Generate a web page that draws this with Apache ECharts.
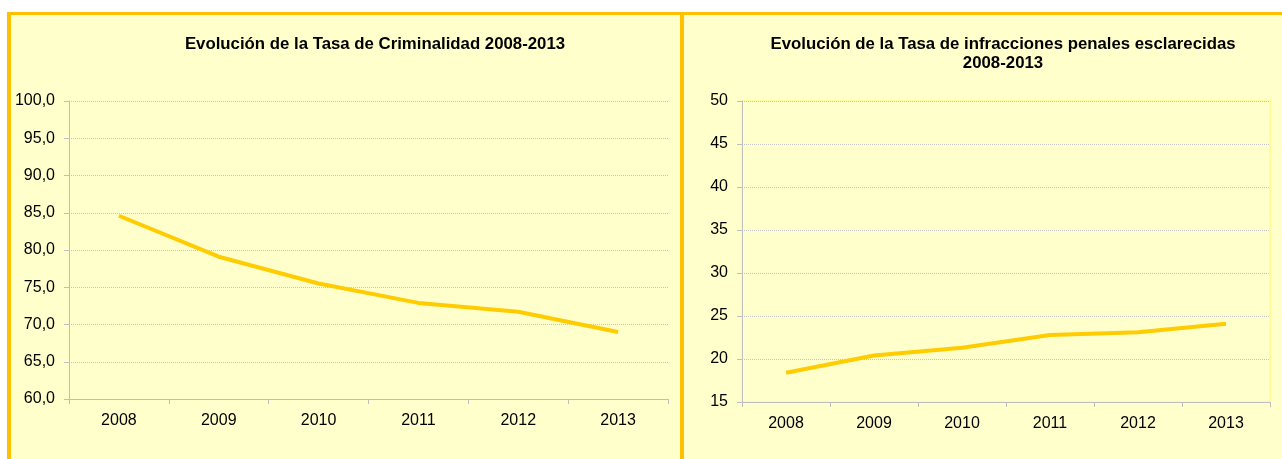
<!DOCTYPE html>
<html>
<head>
<meta charset="utf-8">
<script src="https://cdn.jsdelivr.net/npm/echarts@6/dist/echarts.min.js"></script>
<style>
  html, body { margin: 0; padding: 0; background: #ffffff; width: 1282px; height: 459px; overflow: hidden; }
  #frame { position: absolute; left: 7px; top: 12px; width: 1300px; height: 500px;
           background: #FFFFCC; border-left: 4px solid #FFC000; border-top: 3px solid #FFC000; }
  #divider { position: absolute; left: 680px; top: 12px; width: 4px; height: 460px; background: #FFC000; }
  #chart { position: absolute; left: 0; top: 0; width: 1282px; height: 459px; }
</style>
</head>
<body>
<div id="frame"></div>
<div id="divider"></div>
<div id="chart"></div>
<script>
const years = ['2008', '2009', '2010', '2011', '2012', '2013'];
const tasaCriminalidad = [84.6, 79.1, 75.5, 72.9, 71.7, 69.0];
const tasaEsclarecidas = [18.4, 20.4, 21.3, 22.8, 23.1, 24.1];
const titleLeft = 'Evolución de la Tasa de Criminalidad 2008-2013';
const titleRight = 'Evolución de la Tasa de infracciones penales esclarecidas\n2008-2013';

const chart = echarts.init(document.getElementById('chart'), null, { renderer: 'canvas' });
const font = 'Liberation Sans, Arial, sans-serif';
const axisGray = '#bfbfbf';

function xAxis(gridIndex) {
  return {
    type: 'category', gridIndex, data: years, boundaryGap: true,
    axisLine: { lineStyle: { color: axisGray, width: 1 } },
    axisTick: { show: true, length: 5, lineStyle: { color: axisGray } },
    axisLabel: { color: '#000', fontFamily: font, fontSize: 16, margin: 14 },
    splitLine: { show: false }
  };
}
function yAxis(gridIndex, min, max, fmt) {
  return {
    type: 'value', gridIndex, min, max, interval: 5,
    axisLine: { show: true, lineStyle: { color: axisGray, width: 1 } },
    axisTick: { show: true, length: 5, lineStyle: { color: axisGray } },
    axisLabel: { color: '#000', fontFamily: font, fontSize: 16, margin: 14, formatter: fmt },
    splitLine: { show: true, lineStyle: { color: '#c4c4c4', type: 'dotted', width: 1 } }
  };
}

chart.setOption({
  backgroundColor: 'transparent',
  animation: false,
  title: [
    { text: titleLeft, left: 370, top: 31, textAlign: 'center',
      textStyle: { fontFamily: font, fontSize: 16.8, fontWeight: 'bold', color: '#000' } },
    { text: titleRight, left: 998, top: 30, textAlign: 'center',
      textStyle: { fontFamily: font, fontSize: 16.8, fontWeight: 'bold', color: '#000', lineHeight: 19 } }
  ],
  grid: [
    { left: 69, right: 614, top: 101, bottom: 60, show: false },
    { left: 742, right: 12, top: 101, bottom: 57, show: true, borderColor: '#ffff99', borderWidth: 2, backgroundColor: 'transparent' }
  ],
  xAxis: [xAxis(0), xAxis(1)],
  yAxis: [
    yAxis(0, 60, 100, v => v.toFixed(1).replace('.', ',')),
    yAxis(1, 15, 50, v => String(v))
  ],
  series: [
    { type: 'line', xAxisIndex: 0, yAxisIndex: 0, data: tasaCriminalidad, symbol: 'none',
      lineStyle: { color: '#FFCC00', width: 4 } },
    { type: 'line', xAxisIndex: 1, yAxisIndex: 1, data: tasaEsclarecidas, symbol: 'none',
      lineStyle: { color: '#FFCC00', width: 4 } }
  ]
});
</script>
</body>
</html>
